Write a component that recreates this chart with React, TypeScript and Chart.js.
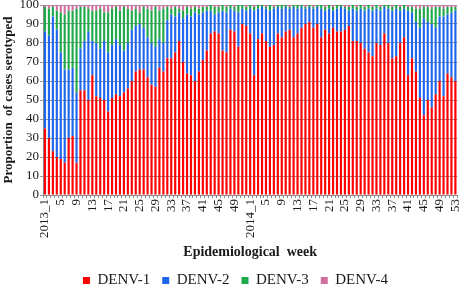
import React, { useEffect, useRef } from "react";
import { Chart, registerables } from "chart.js";

Chart.register(...registerables);

// Week categories: 2013 weeks 1–52, 2014 weeks 1–53
const weeks2013: string[] = [];
for (let w = 1; w <= 52; w++) weeks2013.push(w === 1 ? "2013_1" : String(w));
const weeks2014: string[] = [];
for (let w = 1; w <= 53; w++) weeks2014.push(w === 1 ? "2014_1" : String(w));
const categories: string[] = [...weeks2013, ...weeks2014];

// Proportion (%) of serotyped cases per week
const denv1: number[] = [
  35, 30, 23, 20, 19, 17, 30, 31, 17, 55, 55, 50, 63, 52, 51, 50, 44, 51, 53, 52,
  54, 56, 60, 65, 66, 66, 62, 58, 57, 67, 65, 72, 72, 75, 81, 70, 64, 63, 60, 65,
  71, 76, 85, 86, 85, 76, 75, 87, 86, 78, 90, 89,
  85, 63, 82, 85, 81, 78, 79, 85, 83, 86, 87, 83, 85, 88, 90, 91, 88, 90, 83, 87,
  85, 88, 86, 86, 87, 89, 81, 81, 80, 77, 75, 73, 80, 79, 85, 80, 72, 73, 80, 83,
  63, 72, 65, 51, 42, 50, 46, 53, 60, 52, 64, 62, 60,
];
const denv2: number[] = [
  51, 54, 71, 67, 56, 49, 36, 36, 37, 22, 26, 36, 18, 28, 26, 31, 31, 28, 29, 27,
  22, 24, 27, 24, 24, 22, 21, 22, 21, 15, 15, 20, 23, 19, 15, 23, 31, 31, 36, 30,
  25, 21, 12, 9, 11, 21, 21, 11, 11, 18, 8, 8,
  13, 34, 16, 14, 17, 19, 19, 14, 15, 13, 11, 16, 13, 11, 8, 8, 10, 9, 15, 10,
  13, 9, 12, 13, 11, 8, 17, 16, 18, 20, 23, 24, 18, 18, 14, 18, 25, 25, 17, 15,
  34, 24, 26, 37, 51, 41, 44, 35, 34, 42, 31, 34, 37,
];
const denv3: number[] = [
  13, 14, 5, 10, 21, 29, 31, 30, 44, 22, 18, 12, 16, 17, 21, 15, 21, 19, 17, 18,
  23, 18, 10, 9, 6, 11, 15, 17, 21, 15, 18, 7, 3, 5, 2, 4, 4, 4, 3, 3,
  3, 2, 3, 4, 3, 3, 3, 2, 2, 4, 2, 2,
  2, 2, 2, 1, 1, 3, 1, 1, 2, 1, 1, 1, 2, 1, 1, 1, 1, 1, 2, 2,
  2, 2, 2, 1, 1, 2, 2, 2, 2, 2, 2, 2, 2, 2, 1, 2, 2, 2, 2, 2,
  2, 3, 7, 10, 6, 8, 8, 11, 5, 4, 4, 3, 2,
];
const denv4: number[] = [
  1, 2, 1, 3, 4, 5, 3, 3, 2, 1, 1, 2, 3, 3, 2, 4, 4, 2, 1, 3,
  1, 2, 3, 2, 4, 1, 2, 3, 1, 3, 2, 1, 2, 1, 2, 3, 1, 2, 1, 2,
  1, 1, 0, 1, 1, 0, 1, 0, 1, 0, 0, 1,
  0, 1, 0, 0, 1, 0, 1, 0, 0, 0, 1, 0, 0, 0, 1, 0, 1, 0, 0, 1,
  0, 1, 0, 0, 1, 1, 0, 1, 0, 1, 0, 1, 0, 1, 0, 0, 1, 0, 1, 0,
  1, 1, 2, 2, 1, 1, 2, 1, 1, 2, 1, 1, 1,
];

const seriesNames = ["DENV-1", "DENV-2", "DENV-3", "DENV-4"];
const seriesColors = ["#FF0000", "#1F66EE", "#1FAA4A", "#D0709F"];
const yTicks = { min: 0, max: 100, step: 10 };
const tickEvery = 4;

const FONT = "'Liberation Serif', 'Times New Roman', serif";
const TEXT = "#1a1a1a";

export default function App() {
  const ref = useRef<HTMLCanvasElement | null>(null);

  useEffect(() => {
    if (!ref.current) return;
    const values = [denv1, denv2, denv3, denv4];
    const chart = new Chart(ref.current, {
      type: "bar",
      data: {
        labels: categories,
        datasets: seriesNames.map((name, i) => ({
          label: name,
          data: values[i],
          backgroundColor: seriesColors[i],
          borderWidth: 0,
          barPercentage: 0.55,
          categoryPercentage: 1,
        })),
      },
      options: {
        animation: false,
        responsive: false,
        maintainAspectRatio: false,
        layout: { padding: { top: 5, right: 1, left: 0, bottom: -14 } },
        plugins: {
          tooltip: { enabled: false },
          legend: {
            position: "bottom",
            labels: {
              boxWidth: 7,
              boxHeight: 7,
              padding: 12,
              color: TEXT,
              font: { family: FONT, size: 15 },
            },
          },
        },
        scales: {
          x: {
            stacked: true,
            afterFit: (scale: any) => {
              scale.height = 66;
            },
            grid: {
              display: true,
              drawOnChartArea: false,
              drawTicks: true,
              tickLength: 3,
              color: "#8a8a8a",
            },
            border: { display: true, color: "#8a8a8a" },
            ticks: {
              autoSkip: false,
              maxRotation: 90,
              minRotation: 90,
              padding: 1,
              color: TEXT,
              font: { family: FONT, size: 13 },
              callback: (_v: any, i: number) => (i % tickEvery === 0 ? categories[i] : ""),
            },
            title: {
              display: true,
              text: "Epidemiological  week",
              color: TEXT,
              font: { family: FONT, size: 14, weight: "bold" },
              padding: { top: 0, bottom: 0 },
            },
          },
          y: {
            stacked: true,
            min: yTicks.min,
            max: yTicks.max,
            afterFit: (scale: any) => {
              scale.width = 43;
              scale.paddingTop = 0;
              scale.paddingBottom = 0;
            },
            grid: { color: "#9a9a9a", tickLength: 3 },
            border: { display: true, color: "#8a8a8a" },
            ticks: {
              stepSize: yTicks.step,
              padding: 1,
              color: TEXT,
              font: { family: FONT, size: 13 },
            },
            title: {
              display: true,
              text: "Proportion  of cases serotyped",
              color: TEXT,
              font: { family: FONT, size: 13, weight: "bold" },
              padding: { top: 1, bottom: 0 },
            },
          },
        },
      },
    });
    return () => chart.destroy();
  }, []);

  return (
    <div style={{ position: "absolute", left: 0, top: 0, width: 472, height: 284, background: "#fff" }}>
      <canvas ref={ref} width={472} height={284} style={{ width: 472, height: 284 }} />
    </div>
  );
}
